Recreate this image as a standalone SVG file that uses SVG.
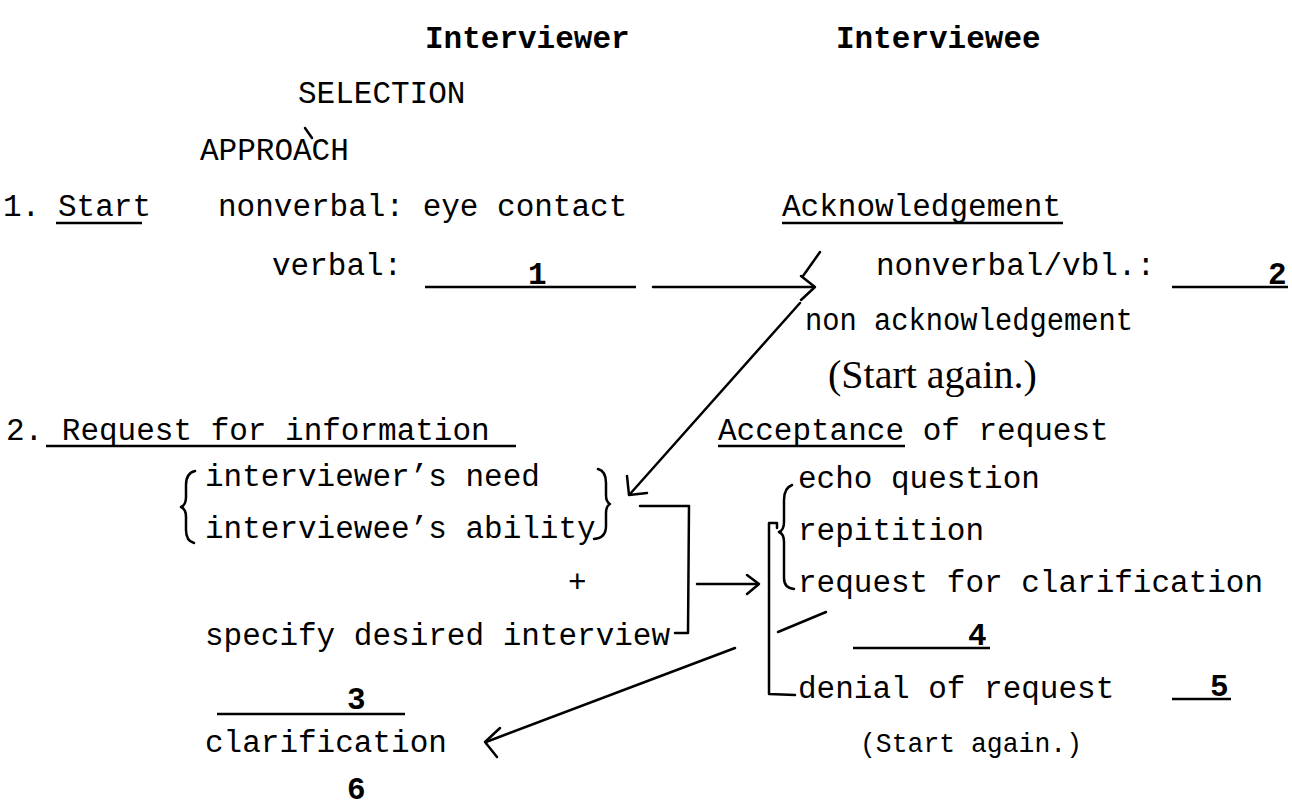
<svg xmlns="http://www.w3.org/2000/svg" width="1292" height="808" viewBox="0 0 1292 808">
<style>
text{font-family:"Liberation Mono","Courier New",monospace;font-size:31px;fill:#000}
.b{font-weight:bold}
.serif{font-family:"Liberation Serif","Times New Roman",serif;font-size:40px}
.ln{stroke:#000;stroke-width:2.5;fill:none;stroke-linecap:round;stroke-linejoin:round}
.ul{stroke:#000;stroke-width:2.5;fill:none}
</style>
<rect width="1292" height="808" fill="#fff"/>
<g id="headers">
<text class="b" x="425" y="48">Interviewer</text>
<text class="b" x="836" y="48">Interviewee</text>
</g>
<g id="selection"><text x="298" y="103">SELECTION</text></g>
<g id="approach"><text x="200" y="160">APPROACH</text><line class="ln" x1="305" y1="128" x2="312" y2="138" stroke-width="1.2"/></g>
<g id="start">
<text x="3" y="216">1.</text>
<text x="58" y="216">Start</text>
<line class="ul" x1="56" y1="223" x2="142" y2="223"/>
<text x="218" y="216">nonverbal: eye contact</text>
<text x="272" y="275">verbal:</text>
<line class="ul" x1="425" y1="287" x2="636" y2="287"/>
<text class="b" x="528" y="284">1</text>
</g>
<g id="acknowledgement">
<text x="782" y="216">Acknowledgement</text>
<line class="ul" x1="782" y1="223" x2="1063" y2="223"/>
<text x="876" y="275">nonverbal/vbl.:</text>
<line class="ul" x1="1172" y1="287" x2="1288" y2="287"/>
<text class="b" x="1268" y="284">2</text>
<text x="805" y="330" textLength="328" lengthAdjust="spacingAndGlyphs">non acknowledgement</text>
<text class="serif" x="828" y="388">(Start again.)</text>
</g>
<g id="request">
<text x="6" y="440">2. Request for information</text>
<line class="ul" x1="46" y1="446" x2="516" y2="446"/>
<path class="ln" d="M195,471 Q186,473 186,485 L186,497 Q186,505 181,507 Q186,509 186,517 L186,530 Q186,541 194,543"/>
<text x="205" y="486">interviewer’s need</text>
<text x="205" y="538">interviewee’s ability</text>
<path class="ln" d="M598,469 Q606,471 606,483 L606,495 Q606,502 610,504 Q606,506 606,513 L606,526 Q606,538 594,539"/>
<text x="568" y="592">+</text>
<text x="205" y="645">specify desired interview</text>
<line class="ul" x1="217" y1="714" x2="405" y2="714"/>
<text class="b" x="347" y="709">3</text>
<text x="205" y="752">clarification</text>
<text class="b" x="347" y="799">6</text>
</g>
<g id="acceptance">
<text x="718" y="440">Acceptance of request</text>
<line class="ul" x1="718" y1="446" x2="905" y2="446"/>
<path class="ln" d="M792,485 Q784,488 784,500 L784,522 Q784,530 779,532 Q784,534 784,542 L784,578 Q784,588 794,589"/>
<text x="798" y="488">echo question</text>
<text x="798" y="540">repitition</text>
<text x="798" y="592">request for clarification</text>
<line class="ul" x1="853" y1="648" x2="990" y2="648"/>
<text class="b" x="968" y="645">4</text>
<text x="798" y="698">denial of request</text>
<line class="ul" x1="1172" y1="699" x2="1231" y2="699"/>
<text class="b" x="1210" y="696">5</text>
<text x="860" y="752" style="font-size:28px" textLength="222" lengthAdjust="spacingAndGlyphs">(Start again.)</text>
</g>
<g id="connectors">
<line class="ln" x1="653" y1="287" x2="814" y2="287"/>
<polyline class="ln" points="801,276 815,287 801,300"/>
<line class="ln" x1="820" y1="252" x2="803" y2="276"/>
<line class="ln" x1="800" y1="303" x2="630" y2="494"/>
<polyline class="ln" points="627,476 629,495 647,493"/>
<polyline class="ln" points="640,506 689,506 688,633 675,633"/>
<line class="ln" x1="697" y1="584" x2="758" y2="584"/>
<polyline class="ln" points="747,575 759,584 747,594"/>
<polyline class="ln" points="777,528 777,523 769,523 769,694 795,695"/>
<line class="ln" x1="778" y1="632" x2="826" y2="612"/>
<line class="ln" x1="735" y1="648" x2="486" y2="742"/>
<polyline class="ln" points="500,728 485,742 497,757"/>
</g>
</svg>
